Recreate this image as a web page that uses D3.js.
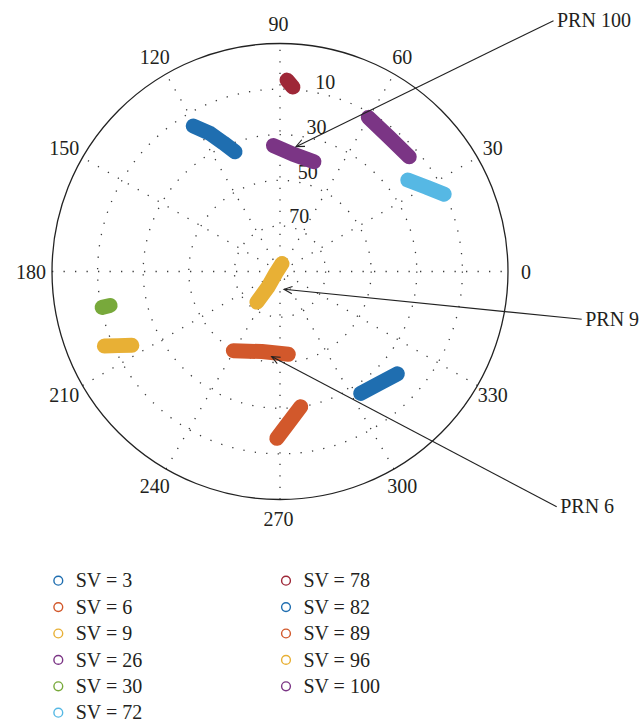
<!DOCTYPE html>
<html>
<head>
<meta charset="utf-8">
<script src="https://cdn.jsdelivr.net/npm/d3@7"></script>
<style>
  html, body { margin: 0; padding: 0; background: #fff; }
  svg { display: block; }
  text { font-family: "Liberation Serif", "Times New Roman", serif; fill: #231f20; }
</style>
</head>
<body>
<svg id="chart" width="640" height="725"></svg>
<script>
// Satellites, in legend order
const svIds = [3, 6, 9, 26, 30, 72, 78, 82, 89, 96, 100];
const svColors = ["#1f6eb0", "#d2582b", "#e8b035", "#7b3585", "#78a93b", "#56b8e4",
                  "#9e2737", "#1f6eb0", "#d2582b", "#e8b035", "#7b3585"];

// Sky tracks as [azimuth deg, elevation deg] samples
const sv3Track   = [[120.8, 15.7], [116.9, 22.1], [113.8, 28.3], [110.6, 33.9]];
const sv6Track   = [[239.5, 49.7], [257.3, 54.0], [275.7, 53.5]];
const sv9Track   = [[76.0, 86.4], [200.6, 88.1], [232.3, 81.4], [233.0, 73.2]];
const sv26Track  = [[60.2, 12.1], [51.0, 14.1], [41.6, 14.2]];
const sv30Track  = [[191.4, 10.4], [191.3, 14.0]];
const sv72Track  = [[35.6, 21.1], [29.9, 15.8], [25.2, 10.4]];
const sv78Track  = [[87.9, 6.0], [86.0, 8.9]];
const sv82Track  = [[303.5, 25.9], [311.4, 24.4], [318.9, 21.7]];
const sv89Track  = [[268.9, 16.8], [273.3, 23.6], [278.7, 30.0]];
const sv96Track  = [[203.0, 6.3], [204.6, 11.9], [206.5, 17.4]];
const sv100Track = [[93.0, 34.7], [83.7, 38.2], [72.8, 39.6]];
const svTracks = [sv3Track, sv6Track, sv9Track, sv26Track, sv30Track, sv72Track,
                  sv78Track, sv82Track, sv89Track, sv96Track, sv100Track];

// Grid ticks
const azimuthTicks = [0, 30, 60, 90, 120, 150, 180, 210, 240, 270, 300, 330];
const elevationTicks = [10, 30, 50, 70];

// Callouts: label text and the [azimuth, elevation] the arrow points to
const calloutLabels = ["PRN 100", "PRN 9", "PRN 6"];
const calloutTargets = [[82.7, 34.8], [282.7, 82.0], [264.4, 52.5]];

// ---- layout ----
const svg = d3.select("#chart");
const cx = 280, cy = 271.5, R = 228;
const fontSize = 20;

// elevation 90 at the centre, outer rim at -10
const rScale = d3.scaleLinear().domain([90, -10]).range([0, R]);
// azimuth measured counter-clockwise from east; converted to d3's clockwise-from-north angle
const aScale = d3.scaleLinear().domain([0, 360]).range([Math.PI / 2, Math.PI / 2 - 2 * Math.PI]);

function polarXY(az, r) {
  const a = aScale(az);
  return [cx + r * Math.sin(a), cy - r * Math.cos(a)];
}
function project(d) { return polarXY(d[0], rScale(d[1])); }

const plot = svg.append("g");
const grid = plot.append("g").attr("fill", "none").attr("stroke", "#3a3a3a")
  .attr("stroke-width", 1.3).attr("stroke-dasharray", "1.3 10.2");

// dotted elevation rings
grid.selectAll("circle.ring").data(elevationTicks).join("circle")
  .attr("class", "ring")
  .attr("cx", cx).attr("cy", cy)
  .attr("r", d => rScale(d));

// dotted spokes every 30 degrees (full diameters)
grid.selectAll("line.spoke").data(azimuthTicks.filter(d => d < 180)).join("line")
  .attr("class", "spoke")
  .attr("x1", d => polarXY(d + 180, R)[0]).attr("y1", d => polarXY(d + 180, R)[1])
  .attr("x2", d => polarXY(d, R)[0]).attr("y2", d => polarXY(d, R)[1]);

// outer rim
plot.append("circle").attr("cx", cx).attr("cy", cy).attr("r", rScale(-10))
  .attr("fill", "none").attr("stroke", "#222").attr("stroke-width", 1.3);

// azimuth labels
const labelR = R * 1.085;
plot.selectAll("text.az").data(azimuthTicks).join("text")
  .attr("class", "az")
  .attr("x", d => polarXY(d, labelR)[0] - 1.5)
  .attr("y", d => polarXY(d, labelR)[1])
  .attr("dy", "0.35em")
  .attr("text-anchor", "middle")
  .attr("font-size", fontSize)
  .text(d => d);

// elevation labels along a ray just left of north
const ringLabelAz = 79;
plot.selectAll("text.el").data(elevationTicks).join("text")
  .attr("class", "el")
  .attr("x", d => polarXY(ringLabelAz, rScale(d) + 2.3)[0])
  .attr("y", d => polarXY(ringLabelAz, rScale(d) + 2.3)[1] - 1)
  .attr("text-anchor", "start")
  .attr("font-size", fontSize)
  .text(d => d);

// satellite tracks
const radial = d3.lineRadial()
  .angle(d => aScale(d[0]))
  .radius(d => rScale(d[1]));

plot.append("g").attr("transform", `translate(${cx},${cy})`)
  .selectAll("path.track").data(svTracks).join("path")
  .attr("class", "track")
  .attr("d", d => radial(d))
  .attr("fill", "none")
  .attr("stroke", (d, i) => svColors[i])
  .attr("stroke-width", 15)
  .attr("stroke-linecap", "round")
  .attr("stroke-linejoin", "round");

// callouts with open arrowheads
const calloutAnchors = [[553.5, 20.7], [581.7, 319.3], [556.7, 506.7]];
const callouts = plot.append("g");
calloutLabels.forEach((label, i) => {
  const [x0, y0] = calloutAnchors[i];
  const [x1, y1] = project(calloutTargets[i]);
  callouts.append("line")
    .attr("x1", x0).attr("y1", y0).attr("x2", x1).attr("y2", y1)
    .attr("stroke", "#222").attr("stroke-width", 1.1);
  const ang = Math.atan2(y0 - y1, x0 - x1);
  const head = 9, spread = 0.42;
  const p = d3.path();
  p.moveTo(x1 + head * Math.cos(ang + spread), y1 + head * Math.sin(ang + spread));
  p.lineTo(x1, y1);
  p.lineTo(x1 + head * Math.cos(ang - spread), y1 + head * Math.sin(ang - spread));
  callouts.append("path").attr("d", p.toString())
    .attr("fill", "none").attr("stroke", "#222").attr("stroke-width", 1.1);
  callouts.append("text")
    .attr("x", x0 + 3.5).attr("y", y0)
    .attr("dy", "0.33em")
    .attr("font-size", fontSize)
    .text(label);
});

// legend: two columns
const legendX = [58.3, 286], legendY0 = 580.7, legendRow = 26.4, perCol = 6;
const legend = svg.append("g");
const items = legend.selectAll("g.item").data(svIds).join("g")
  .attr("class", "item")
  .attr("transform", (d, i) =>
    `translate(${legendX[Math.floor(i / perCol)]},${legendY0 + (i % perCol) * legendRow})`);
items.append("circle")
  .attr("r", 4.4)
  .attr("fill", "none")
  .attr("stroke", (d, i) => svColors[i])
  .attr("stroke-width", 1.4);
items.append("text")
  .attr("x", 17.4)
  .attr("dy", "0.33em")
  .attr("font-size", fontSize)
  .attr("xml:space", "preserve")
  .text(d => `SV = ${d}`);
</script>
</body>
</html>
